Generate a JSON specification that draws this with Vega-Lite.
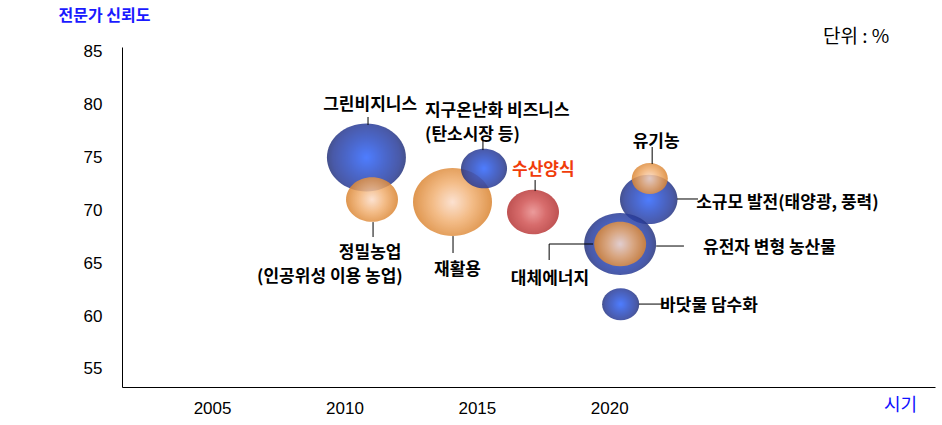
{
  "$schema": "https://vega.github.io/schema/vega-lite/v6.json",
  "autosize": {"type": "none"},
  "padding": {"left": 122, "top": 47, "right": 7, "bottom": 38},
  "width": 813,
  "height": 340,
  "background": "white",
  "config": {"view": {"stroke": null}},
  "datasets": {
    "bubbles": [
      {"item": "그린비지니스", "year": 2010.83, "trust": 74.97, "weight": 62.4, "group": "blue", "z": 1},
      {"item": "정밀농업", "year": 2011.04, "trust": 71.0, "weight": 27.0, "group": "orange", "z": 2},
      {"item": "재활용", "year": 2014.08, "trust": 70.76, "weight": 62.4, "group": "orange", "z": 1},
      {"item": "지구온난화 비즈니스", "year": 2015.27, "trust": 73.93, "weight": 21.2, "group": "blue", "z": 2},
      {"item": "수산양식", "year": 2017.12, "trust": 69.82, "weight": 27.0, "group": "red", "z": 1},
      {"item": "소규모 발전", "year": 2021.49, "trust": 71.01, "weight": 33.0, "group": "blue", "z": 1},
      {"item": "유기농", "year": 2021.53, "trust": 72.99, "weight": 13.0, "group": "orange", "z": 2},
      {"item": "대체에너지", "year": 2020.41, "trust": 66.8, "weight": 51.8, "group": "blue", "z": 1},
      {"item": "유전자 변형 농산물", "year": 2020.41, "trust": 66.8, "weight": 27.0, "group": "orange", "z": 2},
      {"item": "바닷물 담수화", "year": 2020.43, "trust": 61.12, "weight": 13.8, "group": "blue", "z": 1}
    ],
    "leaders": [
      {"x": 2010.89, "y": 78.79, "x2": 2010.89, "y2": 78.04},
      {"x": 2015.23, "y": 76.62, "x2": 2015.23, "y2": 75.67},
      {"x": 2017.2, "y": 72.84, "x2": 2017.2, "y2": 71.8},
      {"x": 2011.08, "y": 68.87, "x2": 2011.08, "y2": 67.46},
      {"x": 2014.1, "y": 67.55, "x2": 2014.1, "y2": 65.95},
      {"x": 2017.73, "y": 66.8, "x2": 2019.39, "y2": 66.8},
      {"x": 2017.73, "y": 66.8, "x2": 2017.73, "y2": 65.29},
      {"x": 2021.77, "y": 66.61, "x2": 2022.82, "y2": 66.61},
      {"x": 2021.62, "y": 75.96, "x2": 2021.62, "y2": 74.35},
      {"x": 2022.56, "y": 71.05, "x2": 2023.35, "y2": 71.05},
      {"x": 2021.12, "y": 61.13, "x2": 2022.07, "y2": 61.13}
    ],
    "labelsCenter": [
      {"label": "그린비지니스", "x": 2010.97, "y": 79.92},
      {"label": "정밀농업", "x": 2010.97, "y": 65.95},
      {"label": "(인공위성 이용 농업)", "x": 2009.45, "y": 63.68},
      {"label": "재활용", "x": 2014.27, "y": 64.34},
      {"label": "대체에너지", "x": 2017.76, "y": 63.49},
      {"label": "유기농", "x": 2021.77, "y": 76.43}
    ],
    "labelsLeft": [
      {"label": "지구온난화 비즈니스", "x": 2013.04, "y": 79.38},
      {"label": "(탄소시장 등)", "x": 2013.04, "y": 77.09},
      {"label": "수산양식", "x": 2016.33, "y": 73.79},
      {"label": "유전자 변형 농산물", "x": 2023.54, "y": 66.42},
      {"label": "소규모 발전(태양광, 풍력)", "x": 2023.28, "y": 70.67},
      {"label": "바닷물 담수화", "x": 2021.92, "y": 60.94}
    ],
    "unit": [
      {"label": "단위 : %", "x": 2029.32, "y": 86.34}
    ]
  },
  "layer": [
    {
      "data": {"name": "bubbles"},
      "mark": {"type": "point", "filled": true, "shape": "M-1,0A1,0.86,0,1,0,1,0A1,0.86,0,1,0,-1,0Z", "opacity": 0.85, "strokeWidth": 0},
      "encoding": {
        "x": {"field": "year", "type": "quantitative", "scale": {"domain": [2001.6, 2032.3], "nice": false, "zero": false},
          "axis": {"values": [2005, 2010, 2015, 2020], "format": "d", "ticks": false, "grid": false, "domainColor": "black", "domainWidth": 1,
            "labelFont": "Liberation Sans", "labelFontSize": 17, "labelColor": "black", "labelPadding": 13,
            "title": "시기", "titleX": 778, "titleY": 18, "titleAlign": "center", "titleBaseline": "middle", "titleAngle": 0,
            "titleFont": "Noto Sans CJK KR", "titleFontSize": 18, "titleFontWeight": "normal", "titleColor": "#1010ff"}},
        "y": {"field": "trust", "type": "quantitative", "scale": {"domain": [53.3, 85.4], "nice": false, "zero": false},
          "axis": {"values": [55, 60, 65, 70, 75, 80, 85], "ticks": false, "grid": false, "domainColor": "black", "domainWidth": 1,
            "labelFont": "Liberation Sans", "labelFontSize": 17, "labelColor": "black", "labelPadding": 20,
            "title": "전문가 신뢰도", "titleX": -64, "titleY": -32, "titleAlign": "left", "titleBaseline": "middle", "titleAngle": 0,
            "titleFont": "Noto Sans CJK KR", "titleFontSize": 16, "titleFontWeight": "bold", "titleColor": "#1a1aff"}},
        "size": {"field": "weight", "type": "quantitative", "scale": {"domain": [0, 70], "range": [0, 7000], "zero": true}, "legend": null},
        "order": {"field": "z", "type": "quantitative"},
        "fill": {
          "condition": [
            {"test": "datum.group === 'blue'", "value": {"gradient": "radial", "x1": 0.5, "y1": 0.5, "r1": 0, "x2": 0.5, "y2": 0.5, "r2": 0.5,
              "stops": [{"offset": 0, "color": "#2f66ff"}, {"offset": 0.45, "color": "#2b4ec6"}, {"offset": 0.85, "color": "#293c98"}, {"offset": 1, "color": "#243278"}]}},
            {"test": "datum.group === 'red'", "value": {"gradient": "radial", "x1": 0.5, "y1": 0.5, "r1": 0, "x2": 0.5, "y2": 0.5, "r2": 0.5,
              "stops": [{"offset": 0, "color": "#e88a8a"}, {"offset": 0.5, "color": "#d05252"}, {"offset": 1, "color": "#b33333"}]}}
          ],
          "value": {"gradient": "radial", "x1": 0.5, "y1": 0.5, "r1": 0, "x2": 0.5, "y2": 0.5, "r2": 0.5,
            "stops": [{"offset": 0, "color": "#fbdcc8"}, {"offset": 0.5, "color": "#f1b072"}, {"offset": 1, "color": "#d9832f"}]}
        }
      }
    },
    {
      "data": {"name": "leaders"},
      "mark": {"type": "rule", "color": "black", "strokeWidth": 1},
      "encoding": {
        "x": {"field": "x", "type": "quantitative"},
        "y": {"field": "y", "type": "quantitative"},
        "x2": {"field": "x2"},
        "y2": {"field": "y2"}
      }
    },
    {
      "data": {"name": "labelsCenter"},
      "mark": {"type": "text", "align": "center", "baseline": "middle", "font": "Noto Sans CJK KR", "fontSize": 17, "fontWeight": "bold", "color": "black"},
      "encoding": {
        "x": {"field": "x", "type": "quantitative"},
        "y": {"field": "y", "type": "quantitative"},
        "text": {"field": "label"}
      }
    },
    {
      "data": {"name": "labelsLeft"},
      "mark": {"type": "text", "align": "left", "baseline": "middle", "font": "Noto Sans CJK KR", "fontSize": 17, "fontWeight": "bold"},
      "encoding": {
        "x": {"field": "x", "type": "quantitative"},
        "y": {"field": "y", "type": "quantitative"},
        "text": {"field": "label"},
        "color": {"condition": {"test": "datum.label === '수산양식'", "value": "#f03c0a"}, "value": "black"}
      }
    },
    {
      "data": {"name": "unit"},
      "mark": {"type": "text", "align": "center", "baseline": "middle", "font": "Noto Sans CJK KR", "fontSize": 19, "color": "black"},
      "encoding": {
        "x": {"field": "x", "type": "quantitative"},
        "y": {"field": "y", "type": "quantitative"},
        "text": {"field": "label"}
      }
    }
  ]
}
